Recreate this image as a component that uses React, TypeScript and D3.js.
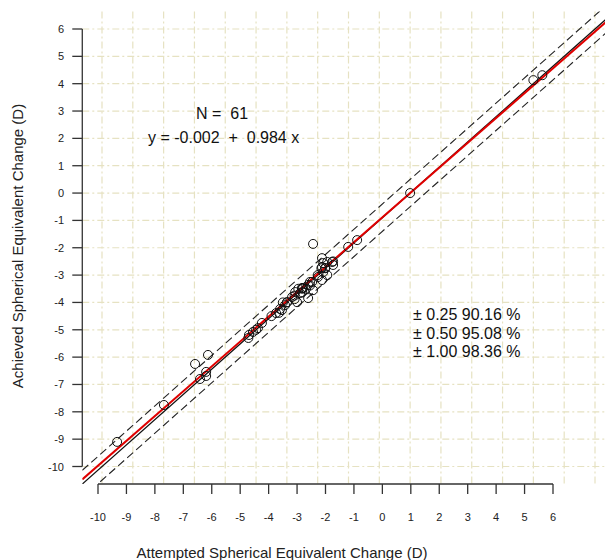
import { scaleLinear, range } from "d3";

const width = 605;
const height = 560;

// attempted vs achieved spherical equivalent change (D)
const attempted = [
  -9.51, -7.99, -6.98, -6.56, -6.82, -6.62, -6.62, -5.23, -5.1, -5.25, -4.94,
  -4.81, -4.35, -4.22, -4.16, -4.06, -3.99, -3.83, -3.73, -3.67, -3.57, -3.51,
  -3.47, -3.31, -3.18, -3.15, -3.31, -2.99, -2.86, -2.82, -2.69, -3.15, -2.86,
  -2.82, -2.69, -2.53, -2.5, -2.86, -2.76, -2.01, -1.72, 0, 4.0, 4.29, -3.75,
  -4.0, -3.5, -3.25, -4.25, -3.0, -2.75, -3.5, -3.75, -4.5, -5.0, -3.25, -2.88,
  -4.13, -3.38, -3.63, -2.5,
];
const achieved = [
  -9.1, -7.75, -6.25, -5.92, -6.8, -6.69, -6.54, -5.19, -5.08, -5.3, -4.94,
  -4.75, -4.39, -4.24, -4.28, -4.1, -3.99, -3.8, -3.62, -3.99, -3.66, -3.47,
  -3.47, -3.36, -3.25, -3.55, -3.84, -3.07, -3.18, -2.89, -3.0, -1.86, -2.38,
  -2.56, -2.52, -2.52, -2.63, -2.71, -2.74, -1.97, -1.72, 0, 4.13, 4.31, -3.75,
  -4.0, -3.5, -3.38, -4.38, -3.0, -2.75, -3.63, -3.88, -4.5, -5.0, -3.25, -2.75,
  -4.0, -3.5, -3.5, -2.5,
];
const tickValues = range(-10, 7);
const intercept = -0.002;
const slope = 0.984;
const band = 0.5;
const statLines = ["± 0.25 90.16 %", "± 0.50 95.08 %", "± 1.00 98.36 %"];

const font = "'Liberation Sans', Arial, sans-serif";
const gridColor = "#e6e2c2";
const axisColor = "#333";

export default function App() {
  const xScale = scaleLinear().domain([-10, 6]).range([102, 595]);
  const yScale = scaleLinear().domain([-10, 6]).range([466.5, 29]);
  // the printed x axis does not line up with the data grid
  const xAxisScale = scaleLinear().domain([-10, 6]).range([98, 553]);

  const lo = -10.64;
  const hi = 6.64;
  const left = xScale(lo);
  const right = xScale(hi);
  const top = yScale(hi);
  const bottom = yScale(lo);

  const fitLine = (a: number, b: number) => ({
    x1: xScale(lo),
    y1: yScale(a + b * lo),
    x2: xScale(hi),
    y2: yScale(a + b * hi),
  });

  return (
    <svg
      width={width}
      height={height}
      style={{ position: "absolute", left: 0, top: 0, background: "#fff" }}
      fontFamily={font}
    >
      <defs>
        <clipPath id="plotArea">
          <rect x={left} y={top} width={right - left} height={bottom - top} />
        </clipPath>
      </defs>

      {/* grid */}
      <g stroke={gridColor} strokeWidth={1.2} strokeDasharray="7,3,2,3">
        {tickValues.map((v) => (
          <line key={"gx" + v} x1={xScale(v)} x2={xScale(v)} y1={top} y2={bottom} />
        ))}
        {tickValues.map((v) => (
          <line key={"gy" + v} x1={left} x2={right} y1={yScale(v)} y2={yScale(v)} />
        ))}
      </g>

      <g clipPath="url(#plotArea)">
        <line {...fitLine(band, 1)} stroke="#222" strokeWidth={1.1} strokeDasharray="8,4" />
        <line {...fitLine(-band, 1)} stroke="#222" strokeWidth={1.1} strokeDasharray="8,4" />
        <line {...fitLine(0, 1)} stroke="#111" strokeWidth={1.3} />
        <line {...fitLine(intercept, slope)} stroke="#e00000" strokeWidth={2} />
        {attempted.map((a, i) => (
          <circle
            key={i}
            cx={xScale(a)}
            cy={yScale(achieved[i])}
            r={4.5}
            fill="none"
            stroke="#111"
            strokeWidth={1}
          />
        ))}
      </g>

      {/* y axis */}
      <g stroke={axisColor} strokeWidth={1.3}>
        <line x1={left} x2={left} y1={yScale(6)} y2={yScale(-10)} />
        {tickValues.map((v) => (
          <line key={"ty" + v} x1={left - 10} x2={left} y1={yScale(v)} y2={yScale(v)} />
        ))}
      </g>
      {tickValues.map((v) => (
        <text
          key={"ly" + v}
          x={64}
          y={yScale(v) + 4}
          textAnchor="end"
          fontSize={11}
          fill="#222"
        >
          {v}
        </text>
      ))}

      {/* x axis */}
      <g stroke={axisColor} strokeWidth={1.3}>
        <line x1={xAxisScale(-10)} x2={xAxisScale(6)} y1={bottom} y2={bottom} />
        {tickValues.map((v) => (
          <line
            key={"tx" + v}
            x1={xAxisScale(v)}
            x2={xAxisScale(v)}
            y1={bottom}
            y2={bottom + 10}
          />
        ))}
      </g>
      {tickValues.map((v) => (
        <text
          key={"lx" + v}
          x={xAxisScale(v)}
          y={521}
          textAnchor="middle"
          fontSize={11}
          fill="#222"
        >
          {v}
        </text>
      ))}

      <text x={282} y={558} textAnchor="middle" fontSize={15} fill="#222">
        Attempted Spherical Equivalent Change (D)
      </text>
      <text
        transform="translate(23,246) rotate(-90)"
        textAnchor="middle"
        fontSize={15}
        fill="#222"
      >
        Achieved Spherical Equivalent Change (D)
      </text>

      <text x={196} y={119} fontSize={16} fill="#111" xmlSpace="preserve">
        {"N =  61"}
      </text>
      <text x={148} y={143} fontSize={16} fill="#111" xmlSpace="preserve">
        {`y = ${intercept}  +  ${slope} x`}
      </text>

      {statLines.map((s, i) => (
        <text key={s} x={413} y={320 + i * 18.5} fontSize={16} fill="#111">
          {s}
        </text>
      ))}
    </svg>
  );
}
